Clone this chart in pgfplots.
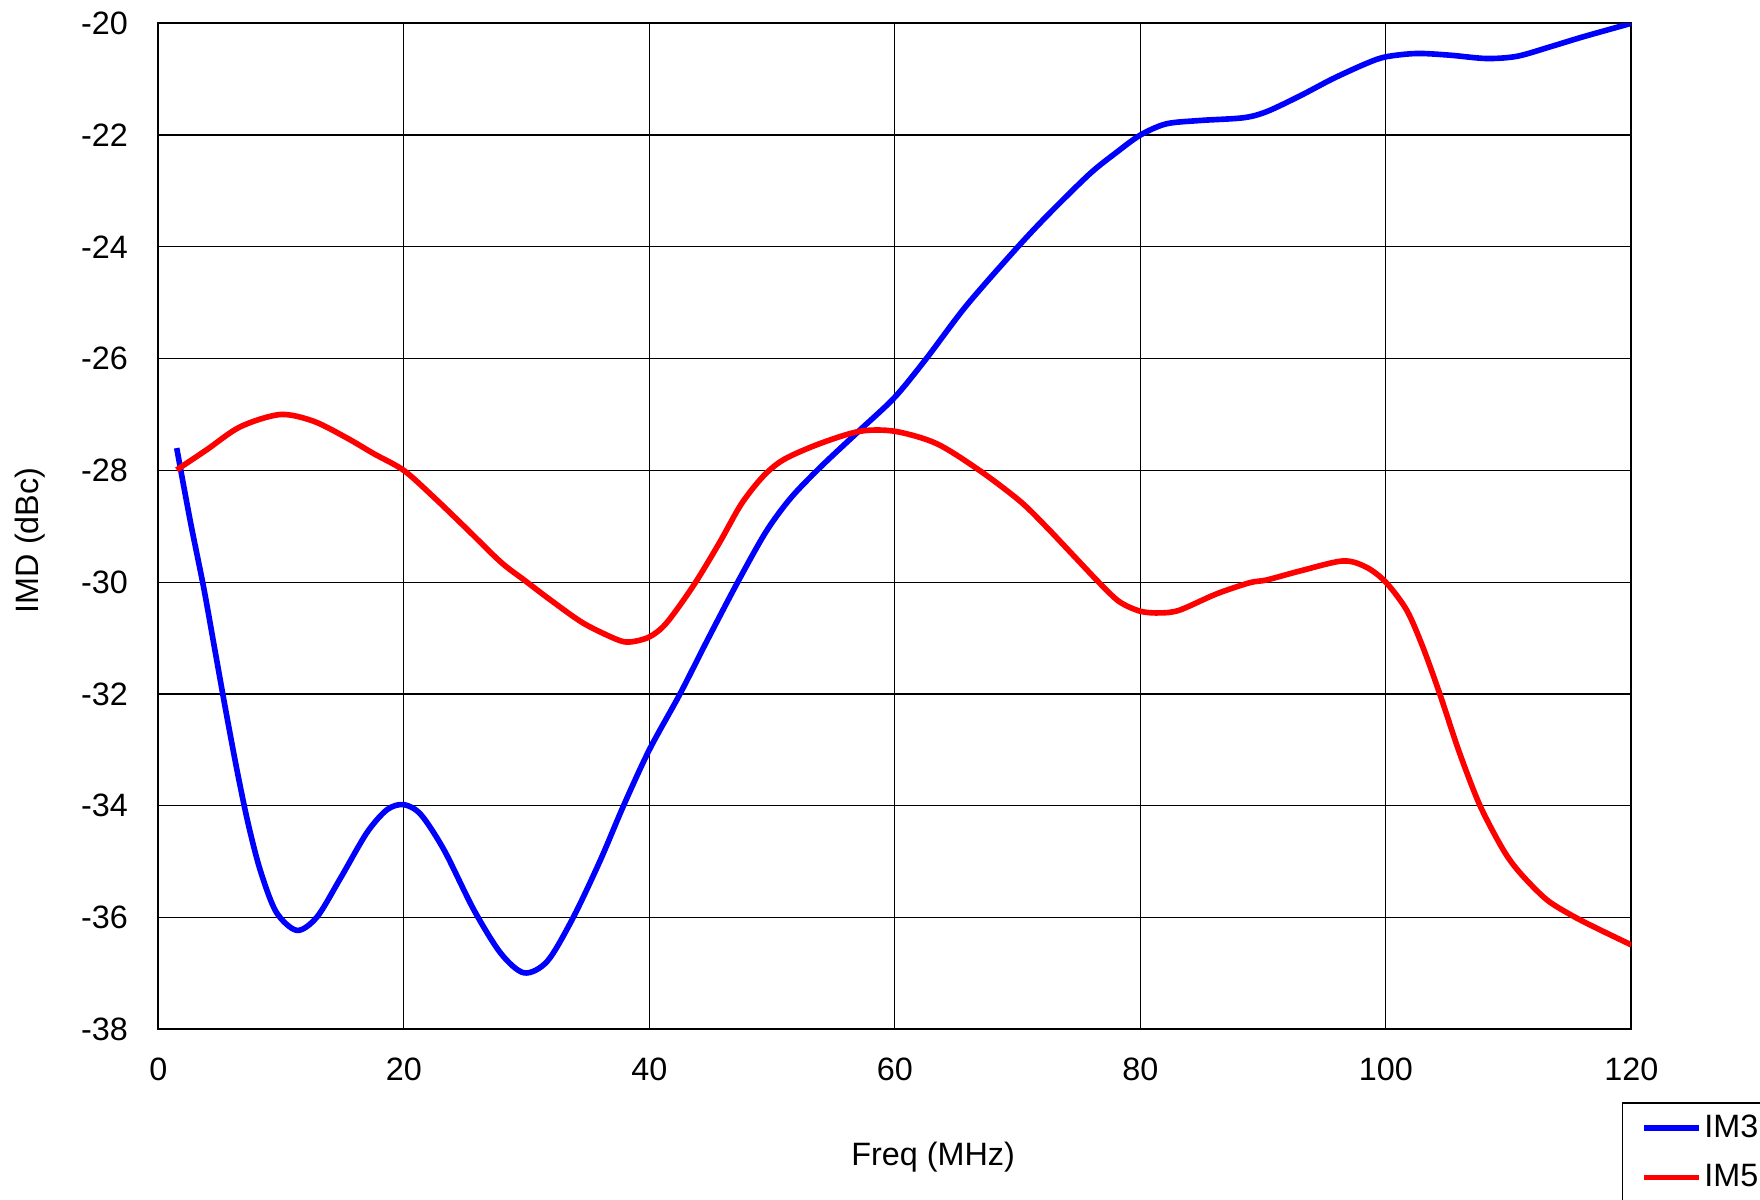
\documentclass[border=0pt]{standalone}
\usepackage{pgfplots}
\pgfplotsset{compat=1.18}
\usepackage{fontspec}
\setmainfont{Liberation Sans}
\begin{document}
\fontsize{9.2pt}{11pt}\selectfont
\begin{tikzpicture}
\useasboundingbox (-1.583,-1.70) rectangle (16.017,10.293);
\begin{axis}[
  at={(0,0)}, anchor=south west,
  scale only axis, width=14.73cm, height=10.06cm,
  xmin=0, xmax=120, ymin=-38, ymax=-20,
  xtick={0,20,...,120}, ytick={-38,-36,...,-20},
  grid=major, major grid style={black, line width=0.35pt},
  axis line style={black, line width=0.5pt},
  major tick length=0pt,
  /pgf/number format/assume math mode=true,
  tick label style={font=\fontsize{9.2pt}{11pt}\selectfont},
  xticklabel style={yshift=-1.7mm},
  yticklabel style={xshift=-1.9mm},
  xlabel={Freq (MHz)}, ylabel={IMD (dBc)},
  label style={font=\fontsize{9.2pt}{11pt}\selectfont},
  xlabel style={at={(axis description cs:0.526,-0.1272)}, anchor=center},
  ylabel style={at={(axis description cs:-0.0869,0.486)}, anchor=center},
  legend style={at={(axis description cs:0.9937,-0.0726)}, anchor=north west,
    draw=black, line width=0.4pt, inner xsep=1.85mm, inner ysep=0.9mm,
    row sep=1.7mm, font=\fontsize{9.2pt}{11pt}\selectfont,
    nodes={inner sep=0.25mm}},
  legend cell align=left,
  legend image code/.code={\draw[#1, line width=1.6pt] (0cm,0cm) -- (0.55cm,0cm);},
]
\addplot[blue, line width=1.6pt, smooth, tension=0.5, line join=round] coordinates {
(1.5,-27.6) (2.6,-28.9) (3.7,-30.1) (4.6,-31.2) (5.5,-32.3) (6.4,-33.35)
(7.3,-34.3) (8.3,-35.15) (9.6,-35.9) (11.29,-36.23) (12.93,-35.99) (14.83,-35.3)
(17.0,-34.48) (18.64,-34.07) (20,-33.98) (21.4,-34.16) (23.3,-34.8) (25.7,-35.86)
(27.9,-36.64) (29.8,-36.99) (31.7,-36.78) (33.8,-36.0) (36.0,-34.98) (37.9,-34.0)
(40.0,-33.0) (42.5,-32.0) (44.7,-31.05) (47.2,-30.0) (49.5,-29.1) (51.5,-28.5)
(53.9,-27.95) (57.15,-27.28) (60,-26.69) (62.6,-25.99) (65.8,-25.06) (69.9,-24.03)
(72.6,-23.4) (75.9,-22.69) (78.0,-22.32) (80,-22.0) (82.1,-21.8) (84.8,-21.74)
(88.4,-21.69) (90.3,-21.58) (93.0,-21.3) (95.7,-20.99) (98.4,-20.72) (100,-20.6)
(102.5,-20.54) (105.2,-20.57) (108.2,-20.63) (110.7,-20.59) (113.4,-20.42)
(116.1,-20.24) (120,-20.0)
};
\addlegendentry{IM3}
\addplot[red, line width=1.6pt, smooth, tension=0.5, line join=round] coordinates {
(1.5,-27.99) (3.95,-27.63) (6.67,-27.22) (9.93,-27.0) (12.65,-27.12) (15.37,-27.42)
(17.55,-27.7) (20,-28.0) (22.4,-28.47) (25.1,-29.04) (27.9,-29.64) (29.8,-29.96)
(31.9,-30.31) (34.6,-30.73) (37.3,-31.02) (38.4,-31.07) (40.0,-30.98) (41.4,-30.73)
(43.6,-30.06) (45.7,-29.3) (47.5,-28.6) (49.3,-28.1) (51.0,-27.8) (53.9,-27.52)
(57.15,-27.3) (60,-27.3) (63.4,-27.52) (66.9,-28.0) (70.2,-28.55) (72.3,-29.0)
(74.5,-29.51) (76.7,-30.02) (78.3,-30.35) (80,-30.52) (81.6,-30.55) (83.2,-30.5)
(86.2,-30.21) (88.9,-30.01) (90.3,-29.96) (93.0,-29.8) (96.5,-29.62)
(98.4,-29.73) (100,-30.0) (101.7,-30.5) (103.0,-31.15) (104.4,-32.0) (106.0,-33.05)
(107.68,-34.0) (109.57,-34.79) (110.93,-35.2) (113.1,-35.68) (115.3,-35.98)
(117.45,-36.22) (120,-36.49)
};
\addlegendentry{IM5}
\end{axis}
\end{tikzpicture}
\end{document}
